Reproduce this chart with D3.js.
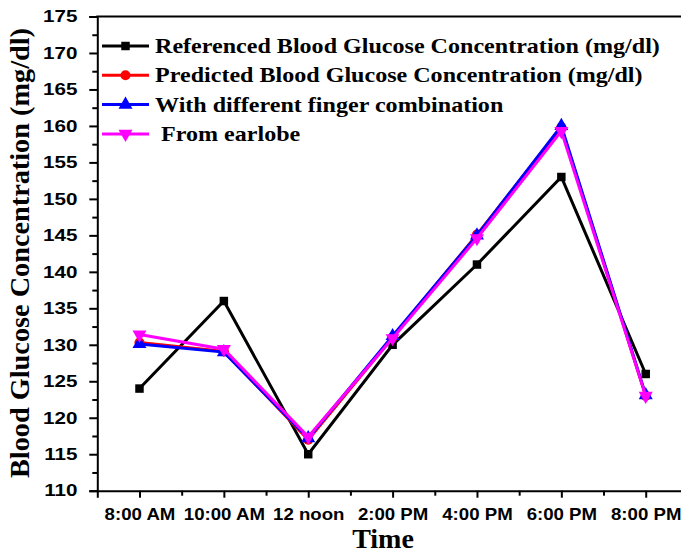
<!DOCTYPE html>
<html>
<head>
<meta charset="utf-8">
<script src="https://cdn.jsdelivr.net/npm/d3@7"></script>
<style>
  html, body { margin: 0; padding: 0; background: #fff; }
  svg { display: block; }
</style>
</head>
<body>
<svg id="chart" width="681" height="554"></svg>
<script>
// Time points of the day
const times = ["8:00 AM", "10:00 AM", "12 noon", "2:00 PM", "4:00 PM", "6:00 PM", "8:00 PM"];

// Blood glucose readings (mg/dl)
const referenced = [124, 136, 115, 130, 141, 153, 126];
const predicted  = [130.3, 129.1, 117.0, 131.0, 145.1, 159.8, 123.0];
const fingerCombo = [130.1, 129.0, 117.2, 131.2, 145.0, 160.0, 123.1];
const earlobe    = [131.4, 129.4, 117.4, 130.9, 144.6, 159.3, 123.0];

const yTicks = [110, 115, 120, 125, 130, 135, 140, 145, 150, 155, 160, 165, 170, 175];

const seriesNames = [
  "Referenced Blood Glucose Concentration (mg/dl)",
  "Predicted Blood Glucose Concentration (mg/dl)",
  "With different finger combination",
  " From earlobe"
];
const seriesColors = ["#000000", "#ff0000", "#0000ff", "#ff00ff"];
const seriesMarkers = ["square", "circle", "triangle", "triangleDown"];
const seriesValues = [referenced, predicted, fingerCombo, earlobe];

const svg = d3.select("#chart");

const plotLeft = 97.3, plotRight = 687.9, plotTop = 16.5, plotBottom = 490.7;

const x = d3.scaleLinear().domain([-0.5, times.length - 0.5]).range([plotLeft, plotRight]);
const y = d3.scaleLinear().domain([110, 175]).range([plotBottom, plotTop]);

const sansFont = "'Liberation Sans', Arial, sans-serif";
const serifFont = "'Liberation Serif', 'Times New Roman', serif";

// Y axis with major and minor ticks
const yMinor = d3.range(112.5, 175, 5);
svg.append("g")
  .attr("transform", `translate(${plotLeft},0)`)
  .call(d3.axisLeft(y).tickValues(yMinor).tickSize(5).tickFormat(""))
  .call(g => g.select(".domain").remove())
  .call(g => g.selectAll("line").attr("stroke", "#000").attr("stroke-width", 2));

const yAxis = svg.append("g")
  .attr("transform", `translate(${plotLeft},0)`)
  .call(d3.axisLeft(y).tickValues(yTicks).tickSize(8).tickFormat(d3.format("d")));
yAxis.select(".domain").attr("stroke", "#000").attr("stroke-width", 2);
yAxis.selectAll("line").attr("stroke", "#000").attr("stroke-width", 2);
yAxis.selectAll("text")
  .attr("font-family", sansFont)
  .attr("font-weight", "bold")
  .attr("font-size", 16.5)
  .attr("fill", "#000")
  .attr("x", -19.8 / 1.25)
  .attr("transform", "scale(1.25,1)");

// X axis: major ticks at each time, minor ticks between
const xMinor = d3.range(0.5, times.length - 0.5, 1);
svg.append("g")
  .attr("transform", `translate(0,${plotBottom})`)
  .call(d3.axisBottom(x).tickValues(xMinor).tickSize(5).tickFormat(""))
  .call(g => g.select(".domain").remove())
  .call(g => g.selectAll("line").attr("stroke", "#000").attr("stroke-width", 2));

const xAxis = svg.append("g")
  .attr("transform", `translate(0,${plotBottom})`)
  .call(d3.axisBottom(x).tickValues(d3.range(times.length)).tickSize(7)
    .tickFormat(i => times[i]));
xAxis.select(".domain").attr("stroke", "#000").attr("stroke-width", 2);
xAxis.selectAll("line").attr("stroke", "#000").attr("stroke-width", 2);
xAxis.selectAll("text")
  .attr("font-family", sansFont)
  .attr("font-weight", "bold")
  .attr("font-size", 16.5)
  .attr("fill", "#000")
  .attr("dy", null)
  .attr("y", 520 - plotBottom)
  .attr("transform", "scale(1.13,1)");

// Top frame line
svg.append("line")
  .attr("x1", plotLeft - 1).attr("x2", plotRight)
  .attr("y1", plotTop).attr("y2", plotTop)
  .attr("stroke", "#000").attr("stroke-width", 2);

// Axis titles
svg.append("text")
  .attr("x", 383).attr("y", 548)
  .attr("text-anchor", "middle")
  .attr("font-family", serifFont)
  .attr("font-weight", "bold")
  .attr("font-size", 28)
  .text("Time");

svg.append("text")
  .attr("transform", "translate(28.5,253) rotate(-90)")
  .attr("text-anchor", "middle")
  .attr("font-family", serifFont)
  .attr("font-weight", "bold")
  .attr("font-size", 26.5)
  .attr("textLength", 450)
  .attr("lengthAdjust", "spacingAndGlyphs")
  .text("Blood Glucose Concentration (mg/dl)");

// Marker symbol generators
const symbolFor = {
  square: d3.symbol().type(d3.symbolSquare).size(72),
  circle: d3.symbol().type(d3.symbolCircle).size(80),
  triangle: d3.symbol().type(d3.symbolTriangle).size(85),
  triangleDown: d3.symbol().type(d3.symbolTriangle).size(85)
};
function markerTransform(kind, px, py) {
  return kind === "triangleDown"
    ? `translate(${px},${py}) rotate(180)`
    : `translate(${px},${py})`;
}

const line = d3.line().x((d, i) => x(i)).y(d => y(d));

// Series lines and markers
seriesValues.forEach((vals, s) => {
  const g = svg.append("g");
  g.append("path")
    .datum(vals)
    .attr("d", line)
    .attr("fill", "none")
    .attr("stroke", seriesColors[s])
    .attr("stroke-width", 3)
    .attr("stroke-linejoin", "miter");
  g.selectAll("path.marker")
    .data(vals)
    .join("path")
    .attr("class", "marker")
    .attr("d", symbolFor[seriesMarkers[s]])
    .attr("transform", (d, i) => markerTransform(seriesMarkers[s], x(i), y(d)))
    .attr("fill", seriesColors[s]);
});

// Legend
const legend = svg.append("g");
seriesNames.forEach((name, s) => {
  const ly = 46 + s * 29.3;
  legend.append("line")
    .attr("x1", 102).attr("x2", 149)
    .attr("y1", ly).attr("y2", ly)
    .attr("stroke", seriesColors[s]).attr("stroke-width", 3);
  legend.append("path")
    .attr("d", symbolFor[seriesMarkers[s]])
    .attr("transform", markerTransform(seriesMarkers[s], 125.5, ly))
    .attr("fill", seriesColors[s]);
  legend.append("text")
    .attr("transform", `translate(155,${ly + 7}) scale(1.12,1)`)
    .attr("font-family", serifFont)
    .attr("font-weight", "bold")
    .attr("font-size", 21.5)
    .attr("xml:space", "preserve")
    .style("white-space", "pre")
    .text(name);
});
</script>
</body>
</html>
